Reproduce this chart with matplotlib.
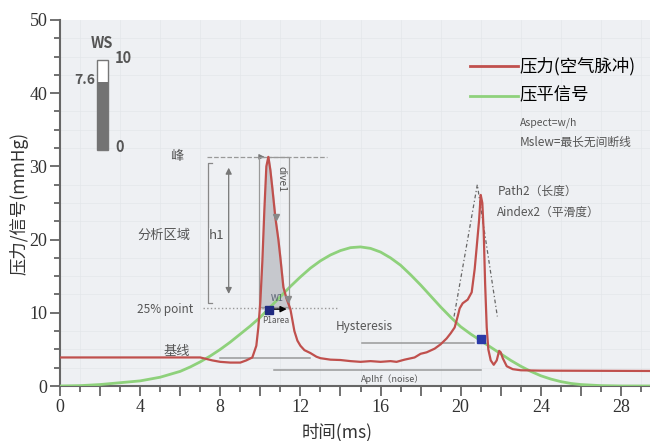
import numpy as np
import matplotlib
matplotlib.use("Agg")
import matplotlib.pyplot as plt
from matplotlib.patches import Rectangle

plt.rcParams['font.family'] = ['Noto Sans CJK SC', 'DejaVu Sans']

# pressure (air pulse) trace
press_x = [0, 7.0, 7.3, 7.6, 8.0, 8.5, 9.0, 9.3, 9.6, 9.8, 9.9, 10.0, 10.1, 10.2, 10.3,
           10.4, 10.5, 10.6, 10.75, 10.9, 11.0, 11.15, 11.3, 11.5, 11.7, 11.85, 12.0,
           12.2, 12.5, 12.8, 13.0, 13.5, 14.0, 14.5, 15.0, 15.5, 16.0, 16.5, 16.8, 17.2,
           17.7, 18.0, 18.3, 18.7, 19.0, 19.3, 19.5, 19.7, 19.85, 19.95, 20.1, 20.35,
           20.55, 20.7, 20.8, 20.92, 21.0, 21.08, 21.15, 21.22, 21.3, 21.38, 21.5,
           21.65, 21.8, 21.92, 22.0, 22.1, 22.3, 22.6, 23.0, 24.0, 30.0]
press_y = [3.9, 3.9, 3.7, 3.5, 3.3, 3.2, 3.2, 3.5, 3.9, 5.5, 8.0, 11.5, 17.0, 24.0, 30.0,
           31.3, 29.5, 27.0, 23.0, 20.0, 17.5, 13.5, 12.0, 10.5, 7.5, 6.2, 5.5,
           4.9, 4.5, 4.0, 3.8, 3.6, 3.55, 3.4, 3.3, 3.4, 3.3, 3.4, 3.3, 3.6,
           3.9, 4.4, 4.6, 5.1, 5.7, 6.5, 7.2, 8.0, 9.5, 10.6, 11.3, 11.8,
           12.8, 16.0, 19.0, 22.7, 26.1, 25.0, 21.0, 14.0, 8.0, 5.0, 3.5,
           2.9, 3.5, 4.8, 4.6, 3.8, 2.7, 2.3, 2.15, 2.1, 2.05]

# applanation signal
sig_x = [0, 1, 2, 3, 4, 5, 6, 6.5, 7, 7.5, 8, 8.5, 9, 9.5, 10, 10.5, 11, 11.5, 12, 12.5,
         13, 13.5, 14, 14.5, 15, 15.5, 16, 16.5, 17, 17.5, 18, 18.5, 19, 19.5, 20, 20.5,
         21, 21.5, 22, 22.5, 23, 23.5, 24, 24.5, 25, 25.5, 26, 27, 28, 30]
sig_y = [0, 0.05, 0.2, 0.45, 0.7, 1.2, 2.0, 2.6, 3.3, 4.1, 5.0, 6.0, 7.1, 8.2, 9.4, 10.8,
         12.2, 13.6, 14.9, 16.1, 17.1, 17.9, 18.5, 18.9, 19.0, 18.8, 18.3, 17.5, 16.5,
         15.2, 13.8, 12.3, 10.8, 9.4, 8.1, 7.1, 6.2, 5.3, 4.4, 3.5, 2.7, 2.0, 1.4, 0.95,
         0.6, 0.35, 0.2, 0.05, 0, 0]

ws_value = 7.6
ws_max = 10
p1_point = (10.42, 10.45)
p2_point = (21.0, 6.4)
quarter_level = 10.6

red = '#c0504d'
green = '#8ed17b'
grey_txt = '#555555'

fig = plt.figure(figsize=(6.5, 4.41), dpi=100)
ax = fig.add_axes([0.0923, 0.1247, 0.9077, 0.830])
ax.set_facecolor('#eef0f3')

px = np.array(press_x)
py = np.array(press_y)

# shaded area of first peak
ax.fill_between(px, py, quarter_level, where=(px >= 9.95) & (px <= 11.55) & (py >= quarter_level),
                interpolate=True, color='#c6c8cd', zorder=2)

ax.plot(sig_x, sig_y, color=green, lw=2, zorder=3)
ax.plot(press_x, press_y, color=red, lw=1.6, zorder=4)

# legend drawn by hand
ax.plot([0.695, 0.776], [0.875, 0.875], transform=ax.transAxes, color=red, lw=2)
ax.text(0.779, 0.875, '压力(空气脉冲)', transform=ax.transAxes, va='center', fontsize=12.5)
ax.plot([0.695, 0.776], [0.793, 0.793], transform=ax.transAxes, color=green, lw=2)
ax.text(0.779, 0.793, '压平信号', transform=ax.transAxes, va='center', fontsize=12.5)
ax.text(0.779, 0.72, 'Aspect=w/h', transform=ax.transAxes, va='center', fontsize=7.5, color=grey_txt)
ax.text(0.779, 0.665, 'Mslew=最长无间断线', transform=ax.transAxes, va='center', fontsize=8.5, color=grey_txt)

# WS gauge
ws_bottom, ws_span = 32.2, 12.3
ax.bar(2.12, ws_span, bottom=ws_bottom, width=0.58, color='white', edgecolor='#777777', lw=1, zorder=3)
ax.bar(2.12, ws_value / ws_max * ws_span, bottom=ws_bottom, width=0.58, color='#737373', zorder=4)
ax.text(2.1, 46.8, 'WS', fontsize=10.5, fontweight='bold', color=grey_txt, ha='center', va='center')
ax.text(2.75, 44.8, '10', fontsize=10.5, fontweight='bold', color=grey_txt, va='center')
ax.text(2.75, 32.7, '0', fontsize=10.5, fontweight='bold', color=grey_txt, va='center')
ax.text(1.75, 41.8, '7.6', fontsize=10, fontweight='bold', color=grey_txt, ha='right', va='center')

# first peak annotations
ax.plot([7.33, 13.33], [31.3, 31.3], ls='--', color='#999999', lw=0.9)
ax.annotate('', xy=(10.35, 31.3), xytext=(9.9, 31.3),
            arrowprops=dict(arrowstyle='-|>', color='#777777', lw=0.8, mutation_scale=8))
ax.text(5.83, 31.3, '峰', fontsize=9.5, color=grey_txt, ha='center', va='center')
ax.plot([7.6, 7.37, 7.37, 7.6], [30.4, 30.4, 11.3, 11.3], color='#888888', lw=0.9)
ax.annotate('', xy=(8.42, 12.2), xytext=(8.42, 30.2),
            arrowprops=dict(arrowstyle='<|-|>', color='#777777', lw=0.9, mutation_scale=9))
ax.text(5.2, 20.6, '分析区域', fontsize=9.5, color=grey_txt, ha='center', va='center')
ax.text(7.45, 20.6, 'h1', fontsize=9.5, color=grey_txt, va='center',
        bbox=dict(facecolor='#eef0f3', edgecolor='none', pad=0.5))
ax.text(6.65, 10.4, '25% point', fontsize=8.5, color=grey_txt, ha='right', va='center')
ax.plot([7.15, 13.85], [quarter_level, quarter_level], ls=':', color='#999999', lw=1)
ax.add_patch(Rectangle((9.92, 10.8), 1.53, 20.5, fill=False, edgecolor='#999999', lw=0.9, zorder=3))
ax.text(11.05, 28.3, 'dive1', fontsize=7.5, color=grey_txt, rotation=270, ha='center', va='center')
ax.plot([10.8, 11.4], [23.1, 11.9], ls='none', marker='v', ms=4, color='#888888', zorder=5)
ax.annotate('', xy=(11.45, 10.5), xytext=(10.45, 10.5),
            arrowprops=dict(arrowstyle='-|>', color='black', lw=1, mutation_scale=9), zorder=6)
ax.plot(*p1_point, marker='s', ms=5.5, color='#1f2a80', zorder=7)
ax.text(10.85, 11.9, 'W1', fontsize=6.5, color='#556070', ha='center', va='center')
ax.text(10.75, 9.0, 'P1area', fontsize=6, color=grey_txt, ha='center', va='center')

# baseline / hysteresis / noise
ax.text(5.83, 4.7, '基线', fontsize=9.5, color=grey_txt, ha='center', va='center')
ax.plot([8.0, 12.5], [3.87, 3.87], color='#999999', lw=1.1, zorder=2)
ax.plot([15.08, 20.67], [5.9, 5.9], color='#999999', lw=1.1, zorder=2)
ax.plot([10.67, 21.0], [2.19, 2.19], color='#999999', lw=1.1, zorder=2)
ax.text(15.2, 8.1, 'Hysteresis', fontsize=8.5, color=grey_txt, ha='center', va='center')
ax.text(16.6, 0.95, 'Aplhf（noise）', fontsize=6.5, color=grey_txt, ha='center', va='center')

# second peak annotations
ax.plot([19.67, 20.83, 21.83], [9.5, 27.5, 9.5], ls=(0, (3, 2, 1, 2)), color='#666666', lw=0.9)
ax.text(21.83, 26.6, 'Path2（长度）', fontsize=8.5, color=grey_txt, va='center')
ax.text(21.83, 23.7, 'Aindex2（平滑度）', fontsize=8.5, color=grey_txt, va='center')
ax.plot(*p2_point, marker='s', ms=6, color='#2a3aa8', zorder=7)

# axes
ax.set_xlim(0, 29.45)
ax.set_ylim(0, 50)
ax.set_xticks(np.arange(0, 29, 2))
ax.set_xticklabels([str(v) if v % 4 == 0 else '' for v in range(0, 29, 2)])
ax.set_xticks(np.arange(0, 30, 1), minor=True)
ax.set_yticks(np.arange(0, 51, 10))
ax.set_yticks(np.arange(0, 51, 2.5), minor=True)
for lab in ax.get_xticklabels() + ax.get_yticklabels():
    lab.set_family('Liberation Serif')
    lab.set_fontsize(13)
    lab.set_color('#333333')
ax.tick_params(which='major', length=7, width=1.3, color='#666666', pad=2)
ax.tick_params(which='minor', length=4, width=1.3, color='#666666')
for s in ['top', 'right']:
    ax.spines[s].set_visible(False)
for s in ['left', 'bottom']:
    ax.spines[s].set_color('#666666')
    ax.spines[s].set_linewidth(1.5)
ax.grid(which='minor', color='#e3e6ea', lw=0.5)
ax.set_axisbelow(True)

ax.set_xlabel('时间(ms)', fontsize=12.5, color='#333333', labelpad=0)
ax.xaxis.set_label_coords(0.47, -0.1)
ax.set_ylabel('压力/信号(mmHg)', fontsize=12.5, color='#333333', labelpad=1)

fig.savefig('out.png', dpi=100)
